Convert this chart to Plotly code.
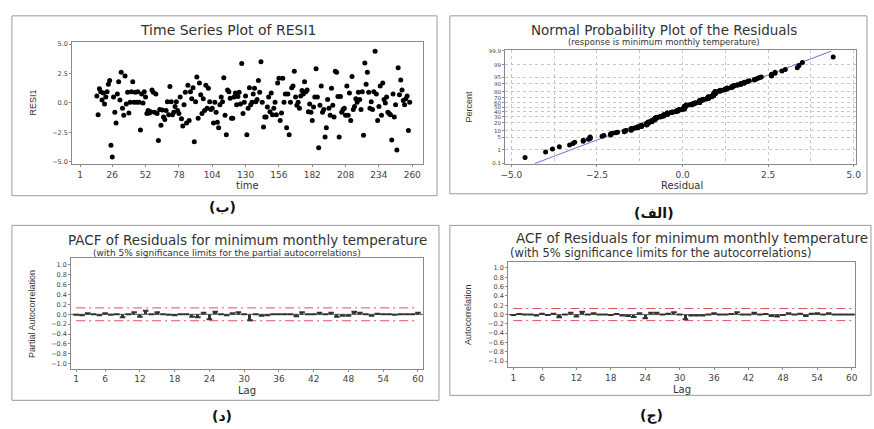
import plotly.graph_objects as go
from statistics import NormalDist, mean, pstdev

# ---------------- data ----------------
resi = [
    0.6, -1.0, 1.2, 0.95, 0.25, 0.85, -0.1, 0.5, 0.95, 1.6, 1.9, -3.6, -4.6, 0.5, -0.8, -1.7, 0.75, 1.8, 0.25, 2.6,
    -0.45, -1.05, 2.3, -0.1, 0.9, -0.85, 0.05, 0.95, 1.8, 0.05, 0.9, 0.05, 0.95, 0.05, -2.3, 0.75, 0.0, 0.95, 0.5, -0.9,
    -0.65, -0.85, -0.75, 1.1, 0.9, -0.8, 0.75, -0.9, -3.2, -0.55, -1.9, -0.6, -1.2, -1.4, -0.65, 0.1, -1.0, 1.4, 0.1, -1.0,
    -0.8, -0.3, 0.1, -0.65, -0.9, 0.5, -1.35, -1.95, -0.15, 0.9, -1.7, 1.5, -1.5, 0.95, 0.35, 1.3, -3.3, 0.1, 2.2, -1.3,
    1.7, 0.7, -0.9, 0.35, -0.65, 1.5, -0.45, 1.25, 0.1, -0.55, -0.45, -1.7, 0.05, -0.8, -1.65, -2.1, -0.15, 0.5, 0.1, 2.15,
    -1.05, -2.7, 1.1, 0.95, 0.4, -1.3, -1.3, 0.5, 0.85, -0.15, 0.55, 0.9, -0.1, 3.35, -0.9, 0.05, 0.6, -2.7, -0.45, 1.3,
    -0.15, 0.05, 0.75, 1.25, 0.1, 0.3, 1.9, 0.9, 3.5, 0.05, -2.05, -1.2, -1.2, -0.35, 0.5, -0.75, 0.85, -1.0, -0.45, 0.05,
    -1.0, 1.7, 2.1, -1.5, -0.85, 2.1, 0.05, 0.75, -2.1, 0.75, -2.7, 0.05, 1.3, 1.45, 2.7, 0.5, -0.2, 0.05, -0.45, 0.6,
    1.05, 0.75, 1.8, 0.95, 1.1, -0.75, -0.1, -0.8, -1.5, -0.35, 0.5, 2.9, 0.5, -3.8, -0.2, 1.45, -0.8, -0.55, -2.9, -2.1,
    0.3, -0.45, -1.05, 1.25, -0.2, -1.2, 2.7, 2.6, 0.55, -2.9, 0.55, -0.8, -0.55, -0.45, -1.05, 1.45, -1.05, 0.85, -1.5, 2.25,
    -0.55, -0.3, 0.35, 0.05, 0.9, 0.3, -0.55, 0.95, -2.75, 3.4, 1.6, 2.6, 0.9, -0.45, 0.1, -0.55, 0.95, 4.4, 0.75, -1.5,
    -0.3, 1.45, -1.05, 1.7, 0.3, 0.0, 0.5, -0.8, -0.9, -1.0, -3.15, 0.75, -1.2, -0.15, -4.0, 3.0, 0.7, 1.95, 1.1, 0.2,
    -0.15, 0.35, 0.6, -2.35, 0.05,
]
time_start = 14
time = list(range(time_start, time_start + len(resi)))
time_ticks = [1, 26, 52, 78, 104, 130, 156, 182, 208, 234, 260]

lags = list(range(1, 61))
pacf = [
    -0.01, -0.02, 0.02, 0.0, -0.02, 0.02, -0.01, 0.0, -0.06, 0.0,
    0.04, -0.05, 0.07, 0.0, 0.04, 0.0, -0.01, -0.02, 0.0, 0.0,
    -0.05, -0.06, 0.03, -0.10, 0.05, 0.0, -0.02, 0.02, 0.04, 0.0,
    -0.12, 0.0, -0.03, -0.02, 0.0, 0.0, 0.0, 0.0, -0.04, 0.04,
    0.0, 0.0, 0.03, 0.0, 0.03, -0.05, -0.03, -0.03, 0.05, 0.03,
    0.0, -0.03, 0.01, 0.0, 0.0, -0.01, 0.0, 0.0, 0.0, 0.03,
]
acf = [
    -0.01, 0.01, 0.0, 0.0, -0.02, 0.02, -0.01, 0.02, -0.06, 0.0,
    0.04, -0.04, 0.06, 0.0, 0.03, 0.0, 0.0, -0.01, 0.01, -0.02,
    -0.03, -0.05, 0.03, -0.08, 0.04, 0.04, 0.0, 0.02, 0.05, 0.0,
    -0.10, -0.02, -0.02, -0.02, 0.0, 0.03, 0.0, 0.0, 0.01, 0.05,
    0.0, 0.0, 0.04, 0.0, 0.01, -0.03, -0.04, -0.01, 0.03, 0.0,
    0.02, -0.03, 0.02, 0.03, 0.0, 0.03, 0.0, 0.0, 0.0, 0.0,
]
sig_limit = 0.13
acf_ticks = [1, 6, 12, 18, 24, 30, 36, 42, 48, 54, 60]
pct_ticks = [0.1, 1, 5, 10, 20, 30, 40, 50, 60, 70, 80, 90, 95, 99, 99.9]

# ---------------- layout helpers ----------------
W, H = 874, 429
FONT = "DejaVu Sans, Liberation Sans, Arial, sans-serif"
NARROW = "Liberation Sans Narrow, Liberation Sans, Arial, sans-serif"
GRAY = "#8a8a8a"
TXT = "#333333"
TICK = "#444444"


def px(x):
    return x / W


def py(y):
    return 1 - y / H


nd = NormalDist()
n = len(resi)
sorted_r = sorted(resi)
zq = [nd.inv_cdf((i + 1 - 0.3) / (n + 0.4)) for i in range(n)]
mu, sd = mean(resi), pstdev(resi)
zlim = nd.inv_cdf(0.001)

fig = go.Figure()

# Panel 1: time series
fig.add_trace(go.Scatter(x=time, y=resi, mode="markers", xaxis="x", yaxis="y",
                         marker=dict(color="black", size=5), showlegend=False))

# Panel 2: normal probability plot
fig.add_trace(go.Scatter(x=[mu + sd * zlim, mu - sd * zlim], y=[zlim, -zlim], mode="lines",
                         xaxis="x2", yaxis="y2", line=dict(color="#7070e0", width=1), showlegend=False))
fig.add_trace(go.Scatter(x=sorted_r, y=zq, mode="markers", xaxis="x2", yaxis="y2",
                         marker=dict(color="black", size=5), showlegend=False))


def corr_panel(vals, xa, ya):
    fig.add_trace(go.Scatter(x=[0, 61], y=[0, 0], mode="lines", xaxis=xa, yaxis=ya,
                             line=dict(color="#555555", width=1), showlegend=False))
    for s in (1, -1):
        fig.add_trace(go.Scatter(x=[lags[0], lags[-1]], y=[s * sig_limit, s * sig_limit], mode="lines",
                                 xaxis=xa, yaxis=ya,
                                 line=dict(color="#e2505e", width=1, dash="9px,4px,2px,4px"),
                                 showlegend=False))
    fig.add_trace(go.Bar(x=lags, y=vals, xaxis=xa, yaxis=ya, width=0.55,
                         marker=dict(color="#333333", line=dict(width=0)), showlegend=False))
    fig.add_trace(go.Scatter(x=lags, y=vals, mode="markers", xaxis=xa, yaxis=ya,
                             marker=dict(symbol="line-ew", size=4,
                                         line=dict(color="#333333", width=2)),
                             showlegend=False))


corr_panel(pacf, "x3", "y3")
corr_panel(acf, "x4", "y4")

axis_common = dict(showline=True, mirror=True, linecolor=GRAY, linewidth=1, ticks="outside",
                   ticklen=2, tickcolor=GRAY, showgrid=False, zeroline=False)
xt_font = dict(family=FONT, size=9, color=TICK)
yt_font = dict(family=FONT, size=6.5, color=TICK)

fig.update_layout(
    width=W, height=H, autosize=False,
    margin=dict(l=0, r=0, t=0, b=0),
    paper_bgcolor="white", plot_bgcolor="white",
    bargap=0,
    xaxis=dict(axis_common, domain=[px(68), px(423)], range=[-5.2, 268.5], tickvals=time_ticks,
               tickfont=xt_font, anchor="y"),
    yaxis=dict(axis_common, domain=[py(163), py(39)], range=[-5.2, 5.22], tickvals=[-5, -2.5, 0, 2.5, 5],
               tickformat=".1f", tickfont=yt_font, anchor="x"),
    xaxis2=dict(axis_common, domain=[px(506), px(861)], range=[-5.18, 5.07], tickvals=[-5, -2.5, 0, 2.5, 5],
                tickformat=".1f", tickfont=xt_font, anchor="y2",
                showgrid=True, gridcolor="#c8c8c8", griddash="dot", gridwidth=1,
                minor=dict(dtick=1.25, tick0=0, showgrid=True, gridcolor="#c8c8c8", griddash="dot")),
    yaxis2=dict(axis_common, domain=[py(163), py(48)], range=[-3.12, 3.12],
                tickvals=[nd.inv_cdf(p / 100) for p in pct_ticks], ticktext=[f"{p:g}" for p in pct_ticks],
                tickfont=dict(family=FONT, size=5.5, color=TICK), anchor="x2",
                showgrid=True, gridcolor="#c8c8c8", griddash="dot", gridwidth=1),
    xaxis3=dict(axis_common, domain=[px(67), px(423)], range=[0.15, 60.9], tickvals=acf_ticks,
                tickfont=xt_font, anchor="y3"),
    yaxis3=dict(axis_common, domain=[py(370), py(258)], range=[-1.1, 1.14], dtick=0.2, tick0=0,
                tickformat=".1f", tickfont=yt_font, anchor="x3"),
    xaxis4=dict(axis_common, domain=[px(509), px(860)], range=[0.1, 60.6], tickvals=acf_ticks,
                tickfont=xt_font, anchor="y4"),
    yaxis4=dict(axis_common, domain=[py(368), py(262)], range=[-1.12, 1.13], dtick=0.2, tick0=0,
                tickformat=".1f", tickfont=yt_font, anchor="x4"),
)

# panel frames
for (x0, y0, x1, y1) in [(7, 13, 437, 195), (450, 13, 872, 193), (7, 225, 439, 402), (450, 225, 876, 397)]:
    fig.add_shape(type="rect", xref="paper", yref="paper", x0=px(x0), x1=px(x1), y0=py(y1), y1=py(y0),
                  line=dict(color="#9a9a9a", width=1), fillcolor="rgba(0,0,0,0)", layer="below")


def ann(text, x, y, size, family=FONT, angle=0, xanchor="center", bold=False, color=TXT):
    if bold:
        text = f"<b>{text}</b>"
    fig.add_annotation(text=text, x=px(x), y=py(y), xref="paper", yref="paper", showarrow=False,
                       xanchor=xanchor, yanchor="middle", textangle=angle,
                       font=dict(family=family, size=size, color=color))


# titles
ann("Time Series Plot of RESI1", 226, 27, 14)
ann("Normal Probability Plot of the Residuals", 667, 27, 13.5)
ann("(response is minimum monthly temperature)", 667, 39, 8.5)
ann("PACF of Residuals for minimum monthly temperature", 245, 240, 13.5)
ann("(with 5% significance limits for the partial autocorrelations)", 225, 252.5, 9)
ann("ACF of Residuals for minimum monthly temperature", 515, 238, 13.5, xanchor="left")
ann("(with 5% significance limits for the autocorrelations)", 509, 253, 11.5, xanchor="left")

# axis titles
ann("RESI1", 28, 101, 9, family=NARROW, angle=-90)
ann("time", 245, 185, 10)
ann("Percent", 469, 105, 9, family=NARROW, angle=-90)
ann("Residual", 685, 185, 10)
ann("Partial Autocorrelation", 28, 315, 9, family=NARROW, angle=-90)
ann("Lag", 245, 392, 10)
ann("Autocorrelation", 469, 315, 9, family=NARROW, angle=-90)
ann("Lag", 685, 391, 10)

# panel labels
lab = "DejaVu Sans, Noto Sans"
ann("(ب)", 220, 206, 14, family=lab, bold=True, color="#111111")
ann("(الف)", 657, 212, 14, family=lab, bold=True, color="#111111")
ann("(د)", 220, 418, 14, family=lab, bold=True, color="#111111")
ann("(ج)", 654, 417, 14, family=lab, bold=True, color="#111111")

fig.write_html("out.html", config={"displayModeBar": False},
               post_script="document.body.style.margin='0';document.body.style.overflow='hidden';")
